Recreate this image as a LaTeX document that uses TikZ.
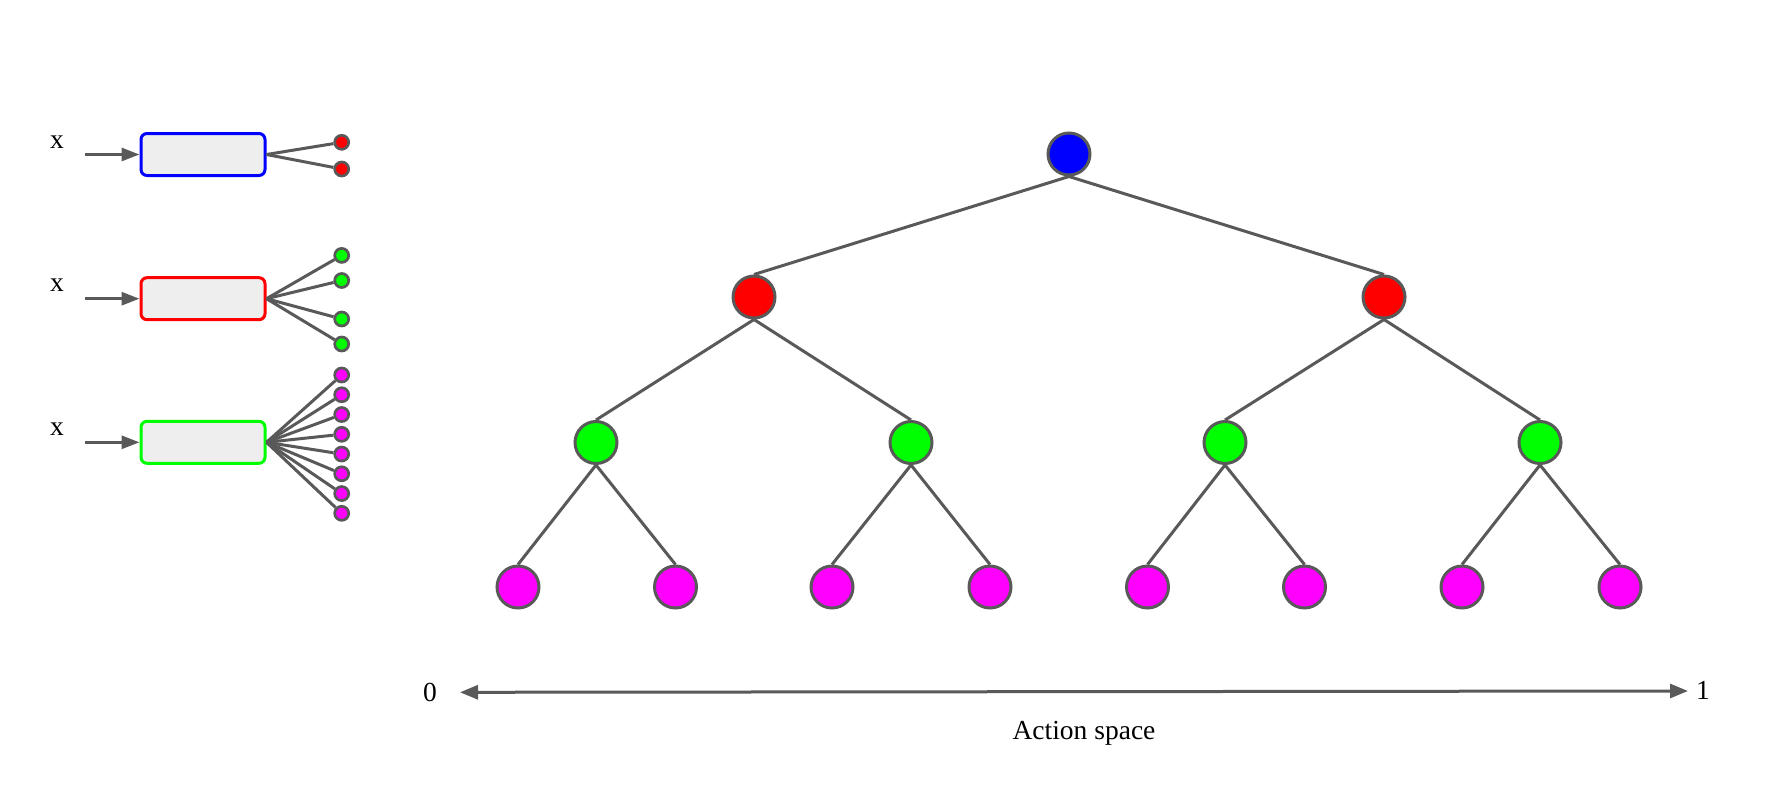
\documentclass[tikz,border=0pt]{standalone}
\usepackage{fontspec}
\setmainfont{Liberation Serif}
\usetikzlibrary{arrows.meta}
\definecolor{edgegray}{HTML}{595959}
\definecolor{boxfill}{HTML}{EEEEEE}
\definecolor{cblue}{HTML}{0000FF}
\definecolor{cred}{HTML}{FF0000}
\definecolor{cgreen}{HTML}{00FF00}
\definecolor{cmag}{HTML}{FF00FF}
\begin{document}
\begin{tikzpicture}[x=1pt,y=-1pt,
  tnode/.style={circle,draw=edgegray,line width=3pt,minimum size=42pt,inner sep=0pt},
  dot/.style={circle,draw=edgegray,line width=2.7pt,minimum size=14pt,inner sep=0pt},
  netbox/.style={rounded corners=6pt,fill=boxfill,line width=3pt,minimum width=124pt,minimum height=42pt,inner sep=0pt,draw},
  conn/.style={draw=edgegray,line width=3pt},
  arr/.style={conn,-{Triangle[length=18pt,width=13pt]}},
  lbl/.style={font=\fontsize{27.5}{30}\selectfont,inner sep=0pt}]
\useasboundingbox (0,0) rectangle (1780,808);

% ---- tree ----
\node[tnode,fill=cblue] (r) at (1069,154) {};
\node[tnode,fill=cred] (a1) at (754,297) {};
\node[tnode,fill=cred] (a2) at (1384,297) {};
\node[tnode,fill=cgreen] (b1) at (596,442.5) {};
\node[tnode,fill=cgreen] (b2) at (911,442.5) {};
\node[tnode,fill=cgreen] (b3) at (1225,442.5) {};
\node[tnode,fill=cgreen] (b4) at (1540,442.5) {};
\node[tnode,fill=cmag] (c1) at (518,587) {};
\node[tnode,fill=cmag] (c2) at (675.5,587) {};
\node[tnode,fill=cmag] (c3) at (832,587) {};
\node[tnode,fill=cmag] (c4) at (990,587) {};
\node[tnode,fill=cmag] (c5) at (1147.5,587) {};
\node[tnode,fill=cmag] (c6) at (1304.5,587) {};
\node[tnode,fill=cmag] (c7) at (1462,587) {};
\node[tnode,fill=cmag] (c8) at (1620,587) {};
\foreach \p/\c in {r/a1,r/a2,a1/b1,a1/b2,a2/b3,a2/b4,b1/c1,b1/c2,b2/c3,b2/c4,b3/c5,b3/c6,b4/c7,b4/c8}
  \draw[conn] (\p.south) -- (\c.north);

% ---- left networks ----
\node[netbox,draw=cblue] (n1) at (203,154.5) {};
\node[netbox,draw=cred] (n2) at (203,298.7) {};
\node[netbox,draw=cgreen] (n3) at (203,442.3) {};

\node[lbl] (x1) at (57,142) {x};
\node[lbl] (x2) at (57,285) {x};
\node[lbl] (x3) at (57,429) {x};
\coordinate (i1) at (85,154.5);
\coordinate (i2) at (85,298.7);
\coordinate (i3) at (85,442.3);
\draw[arr] (i1) -- (n1.west);
\draw[arr] (i2) -- (n2.west);
\draw[arr] (i3) -- (n3.west);

\node[dot,fill=cred] (d11) at (341.7,142.3) {};
\node[dot,fill=cred] (d12) at (341.7,169) {};
\foreach \d in {d11,d12} \draw[conn] (n1.east) -- (\d);

\node[dot,fill=cgreen] (d21) at (341.7,255.4) {};
\node[dot,fill=cgreen] (d22) at (341.7,280.5) {};
\node[dot,fill=cgreen] (d23) at (341.7,319) {};
\node[dot,fill=cgreen] (d24) at (341.7,344) {};
\foreach \d in {d21,d22,d23,d24} \draw[conn] (n2.east) -- (\d);

\foreach \i in {1,...,8}
  \node[dot,fill=cmag] (d3\i) at (341.7,{375+(\i-1)*19.76}) {};
\foreach \i in {1,...,8} \draw[conn] (n3.east) -- (d3\i);

% ---- action space axis ----
\coordinate (ax0) at (460,692.3);
\coordinate (ax1) at (1688,691);
\draw[conn,{Triangle[length=18pt,width=14pt]}-{Triangle[length=18pt,width=14pt]}] (ax0) -- (ax1);
\node[lbl] (zero) at (430,692) {0};
\node[lbl] (one) at (1703,690) {1};
\node[lbl] (as) at (1084,733) {Action space};
\end{tikzpicture}
\end{document}
